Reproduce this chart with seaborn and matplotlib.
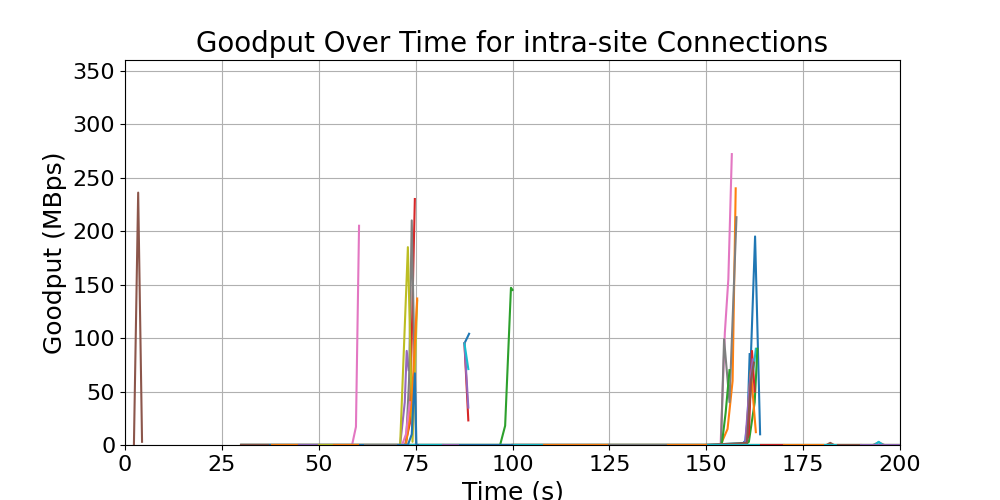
import matplotlib
matplotlib.use("Agg")
import matplotlib.pyplot as plt
import pandas as pd
import seaborn as sns

# ── Data: one list of sample times / goodput values per connection ─────────
TITLE = "Goodput Over Time for intra-site Connections"
X_TICKS = [0, 25, 50, 75, 100, 125, 150, 175, 200]
Y_TICKS = [0, 50, 100, 150, 200, 250, 300, 350]

conn_times = [
    [30, 100, 150, 159.5, 160.8, 162.6, 163.9],          # 0
    [30, 150, 153.7, 155.5, 156.8, 157.6],               # 1
    [30, 96.8, 98.1, 99.6, 100.0],                       # 2
    [30, 72.3, 73.5, 74.8],                              # 3
    [30, 71.0, 72.2, 72.7, 73.2],                        # 4
    [2.3, 3.4, 4.4],                                     # 5
    [30, 58.6, 59.6, 60.4],                              # 6
    [30, 72.5, 73.3, 74.0, 75.1],                        # 7
    [30, 71.0, 73.0, 74.2, 75.4],                        # 8
    [30, 100, 150, 160.0, 161.5, 162.8],                 # 9
    [87.6, 88.8],                                        # 10
    [30, 72.5, 74.0, 75.4],                              # 11
    [100, 150, 160.0, 161.0, 162.5, 163.2],              # 12
    [87.6, 88.6],                                        # 13
    [87.6, 88.6],                                        # 14
    [30, 181.0, 182.0, 183.0, 200],                      # 15
    [150, 153.7, 154.8, 155.7, 156.6],                   # 16
    [150, 153.8, 154.6, 156.0, 157.8],                   # 17
    [120, 159.5, 200],                                   # 18
    [87.6, 88.6],                                        # 19
    [30, 150, 159.0, 160.5, 161.2],                      # 20
    [100, 159.5, 160.2, 161.5, 162.8],                   # 21
    [30, 150, 154.0, 155.0, 156.0],                      # 22
    [100, 150, 160.0, 161.0, 161.8, 162.5],              # 23
    [100, 160.0, 161.3, 162.0],                          # 24
    [100, 150, 160.5, 161.5, 162.3],                     # 25
    [30, 71.5, 72.5, 73.5],                              # 26
    [100, 193.0, 194.5, 196.0, 200],                     # 27
    [30, 200],                                           # 28
    [30, 150, 193.5, 194.5, 195.5, 200],                 # 29
    [30, 73.0, 74.0, 74.8, 75.2, 100],                   # 30
]

conn_goodput = [
    [0, 0, 0, 1, 8, 195, 10],
    [0, 0, 0, 15, 60, 240],
    [0, 0, 18, 147, 145],
    [0, 0, 20, 230],
    [0, 0, 40, 88, 70],
    [0, 236, 3],
    [0, 0, 17, 205],
    [0, 0, 60, 210, 2],
    [0, 0, 185, 3, 135],
    [0, 0, 0, 2, 50, 90],
    [95, 104],
    [0, 0, 40, 137],
    [0, 0, 0, 3, 40, 90],
    [95, 23],
    [95, 35],
    [0, 0, 2, 0, 0],
    [0, 0, 105, 155, 272],
    [0, 0, 99, 40, 213],
    [0, 0, 0],
    [95, 71],
    [0, 0, 0, 5, 85],
    [0, 0, 2, 70, 12],
    [0, 0, 0, 30, 70],
    [0, 0, 0, 10, 88, 50],
    [0, 0, 60, 80],
    [0, 0, 2, 60, 77],
    [0, 0, 10, 40],
    [0, 0, 2.5, 0, 0],
    [0, 0],
    [0, 0, 0, 3, 0, 0],
    [0, 0, 10, 67, 0, 0],
]

# idle stretches on the zero line (start, end) and their tab10 colour index
idle_start = [30, 38, 45, 50, 54, 62, 76, 82, 101, 108, 125, 140, 164, 170, 184, 190]
idle_end = [37, 45, 50, 54, 60, 70, 82, 86, 108, 125, 140, 150, 170, 180, 190, 200]
idle_color = [5, 1, 4, 8, 1, 7, 9, 4, 9, 1, 7, 1, 3, 1, 5, 4]

# ── Build long-form tables ─────────────────────────────────────────────────
tab10 = sns.color_palette("tab10")

rows = []
for i, (ts, gs) in enumerate(zip(conn_times, conn_goodput)):
    for t, g in zip(ts, gs):
        rows.append({"conn": f"conn{i}", "time": t, "goodput": g})
df = pd.DataFrame(rows)
palette = {f"conn{i}": tab10[i % 10] for i in range(len(conn_times))}

idle_rows = []
for j, (a, b) in enumerate(zip(idle_start, idle_end)):
    idle_rows.append({"conn": f"idle{j}", "time": a, "goodput": 0})
    idle_rows.append({"conn": f"idle{j}", "time": b, "goodput": 0})
df_idle = pd.DataFrame(idle_rows)
idle_palette = {f"idle{j}": tab10[c] for j, c in enumerate(idle_color)}

# ── Plot ───────────────────────────────────────────────────────────────────
fig, ax = plt.subplots(figsize=(10, 5), dpi=100)
common = dict(x="time", y="goodput", hue="conn", estimator=None,
              sort=False, legend=False, linewidth=1.5, ax=ax)
sns.lineplot(data=df, palette=palette, **common)
sns.lineplot(data=df_idle, palette=idle_palette, **common)

ax.set_xlim(0, 200)
ax.set_ylim(0, 360)
ax.set_xticks(X_TICKS)
ax.set_yticks(Y_TICKS)
ax.tick_params(labelsize=16)
ax.grid(True)
ax.set_title(TITLE, fontsize=20)
ax.set_xlabel("Time (s)", fontsize=18)
ax.set_ylabel("Goodput (MBps)", fontsize=18)

fig.savefig("out.png", dpi=100)
